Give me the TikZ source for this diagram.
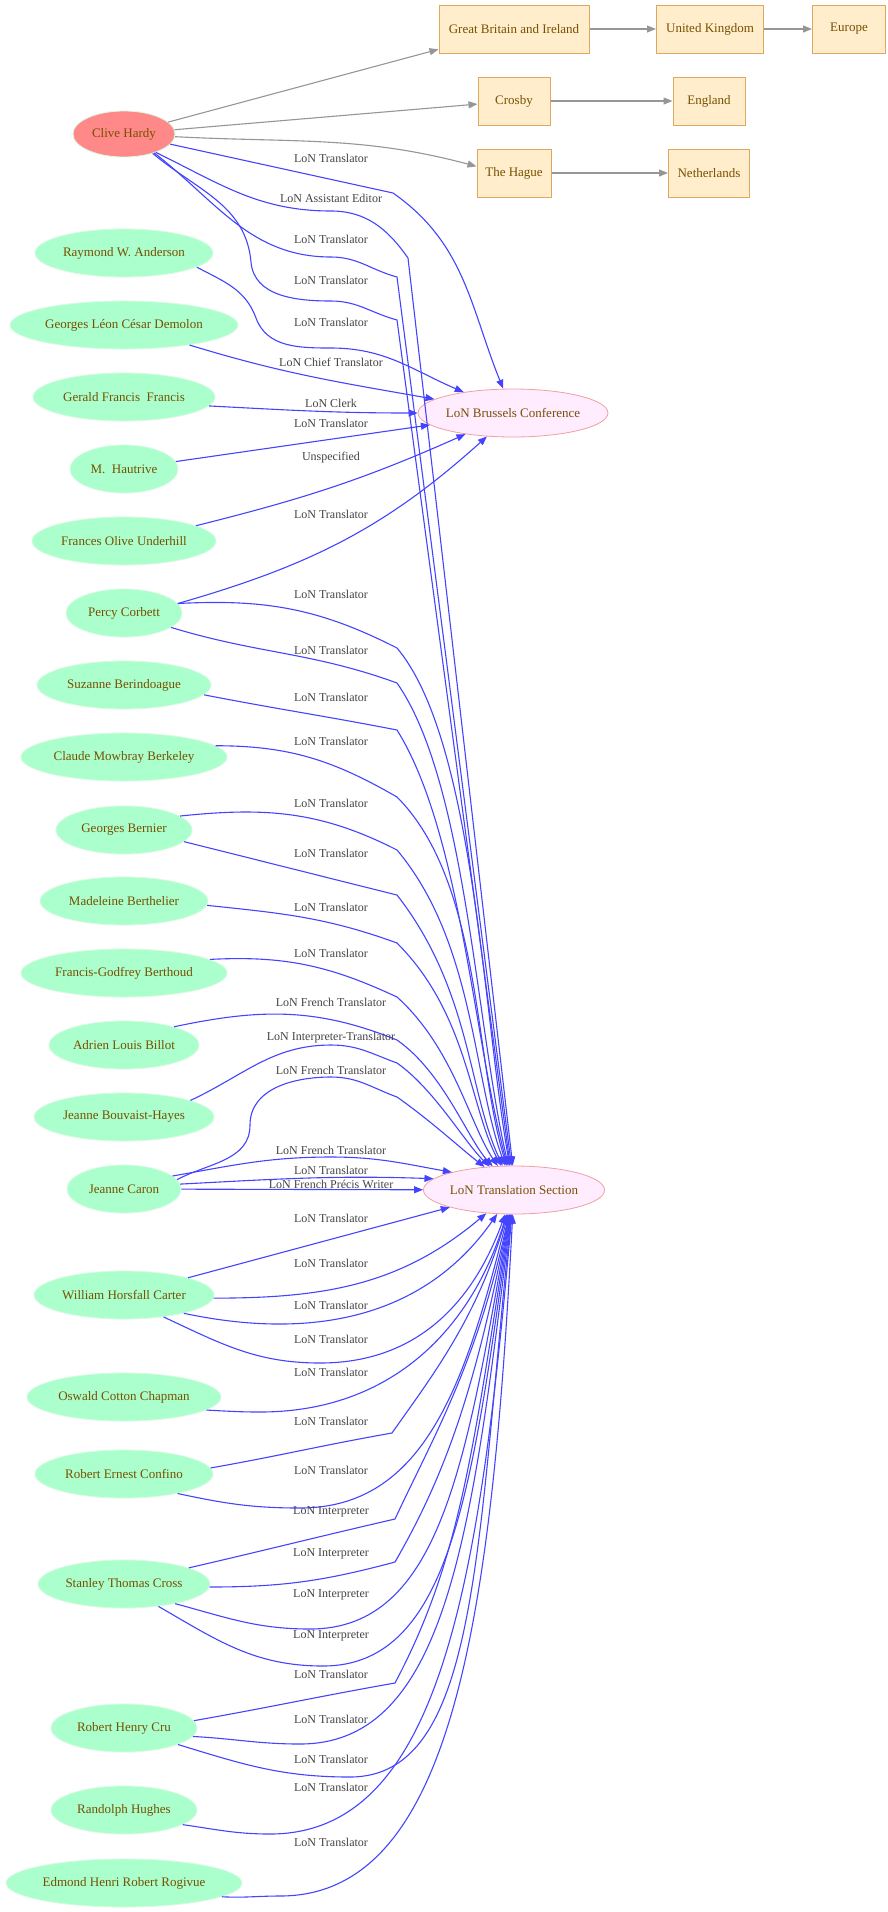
\documentclass[tikz,border=0pt]{standalone}
\usepackage{fontspec}
\setmainfont{Liberation Serif}
\usetikzlibrary{arrows.meta,shapes.geometric}

\definecolor{lonblue}{RGB}{68,68,255}
\definecolor{placegray}{RGB}{150,150,150}
\definecolor{mint}{RGB}{170,255,204}
\definecolor{mintline}{RGB}{215,250,225}
\definecolor{salmon}{RGB}{255,136,136}
\definecolor{placefill}{RGB}{255,237,204}
\definecolor{placeline}{RGB}{222,168,96}
\definecolor{orgfill}{RGB}{255,236,255}
\definecolor{orgline}{RGB}{240,160,160}
\definecolor{ink}{RGB}{120,80,0}
\definecolor{labink}{RGB}{68,68,68}

\tikzset{
  person/.style={ellipse,fill=mint,draw=mintline,line width=.8pt,minimum height=48pt,
    inner sep=0pt,text=ink,font=\fontsize{13}{15}\selectfont},
  org/.style={person,fill=orgfill,draw=orgline},
  place/.style={rectangle,fill=placefill,draw=placeline,line width=1pt,minimum height=48pt,
    inner xsep=4pt,text=ink,font=\fontsize{13}{15}\selectfont},
  lon/.style={draw=lonblue,line width=1.1pt,-{Triangle[length=9pt,width=7pt]}},
  geo/.style={draw=placegray,line width=1.1pt,-{Triangle[length=9pt,width=7pt]}},
  role/.style={text=labink,inner sep=0pt,font=\fontsize{12}{14}\selectfont}
}

\begin{document}
\begin{tikzpicture}[x=1pt,y=-1pt]
  \useasboundingbox[fill=white] (0,0) rectangle (887,1912);

  % places
  \node[place,minimum width=150pt] (gbi) at (514,29) {Great Britain and Ireland};
  \node[place,minimum width=107pt] (uk) at (710,29) {United Kingdom};
  \node[place,minimum width=73pt] (europe) at (849,29) {Europe};
  \node[place,minimum width=72pt] (crosby) at (514,101) {Crosby};
  \node[place,minimum width=72pt] (england) at (709,101) {England};
  \node[place,minimum width=74pt] (hague) at (514,173) {The Hague};
  \node[place,minimum width=81pt] (nl) at (709,173) {Netherlands};

  % organisations
  \node[org,minimum width=184pt] (bru) at (513,413) {LoN Brussels Conference};
  \node[org,minimum width=180pt] (trs) at (514,1190) {LoN Translation Section};

  % people
  \node[person,fill=salmon,minimum width=102pt,minimum height=46pt] (clive) at (124,134) {Clive Hardy};
  \foreach \n/\y/\w/\t in {anderson/253/178/Raymond W. Anderson,
      demolon/325/228/Georges Léon César Demolon, francis/397/182/Gerald Francis~ Francis,
      hautrive/469/108/M.~ Hautrive, underhill/541/184/Frances Olive Underhill,
      corbett/613/116/Percy Corbett, berindoague/685/174/Suzanne Berindoague,
      berkeley/757/206/Claude Mowbray Berkeley, bernier/830/136/Georges Bernier,
      berthelier/901/168/Madeleine Berthelier, berthoud/973/206/Francis-Godfrey Berthoud,
      billot/1045/150/Adrien Louis Billot, bouvaist/1117/180/Jeanne Bouvaist-Hayes,
      caron/1189/114/Jeanne Caron, carter/1295/180/William Horsfall Carter,
      chapman/1397/194/Oswald Cotton Chapman, confino/1474/178/Robert Ernest Confino,
      cross/1584/172/Stanley Thomas Cross, cru/1728/146/Robert Henry Cru,
      hughes/1810/146/Randolph Hughes, rogivue/1883/236/Edmond Henri Robert Rogivue}
    \node[person,minimum width=\w pt] (\n) at (124,\y) {\t};

  % places of Clive Hardy
  \draw[geo] (clive) -- (gbi);
  \draw[geo] (clive) -- (crosby);
  \draw[geo] (clive) to[out=-3,in=165] (hague.170);
  \foreach \from/\to in {gbi/uk,uk/europe,crosby/england,hague/nl}
    \draw[geo] (\from) -- (\to);

  % Brussels conference
  \draw[lon] (clive) -- (393,193) to[out=-35,in=112] (bru);
  \draw[lon] (anderson.-11) to[out=-28,in=110] (256,318) to[out=-70,in=180] (331,348) to[out=0,in=157] (bru);
  \draw[lon] (demolon.-17) to[out=-17,in=170] (bru);
  \draw[lon] (francis.-6) to[out=-3,in=180] (bru);
  \draw[lon] (hautrive) -- (bru);
  \draw[lon] (underhill.12) to[out=14,in=-156] (bru);
  \draw[lon] (corbett.10) to[out=16,in=-138] (bru);

  % translation section, from above
  \draw[lon] (clive.-30) to[out=-26,in=180] (331,211) to[out=0,in=125] (408,258) -- (trs.93);
  \draw[lon] (clive.-32) to[out=-38,in=180] (331,257) to[out=0,in=165] (397,277) -- (trs.96);
  \draw[lon] (clive.-34) to[out=-40,in=95] (251,262) to[out=-85,in=180] (331,301) to[out=0,in=165] (397,320) -- (trs.99);
  \foreach \src/\anc/\dep/\ky/\arr/\turn/\hit in {corbett/10/3/648/153/-50/100,
      corbett/-17/-17/683/160/-55/103, berindoague/-7/-11/730/169/-58/105,
      berkeley/7/0/797/150/-45/107, bernier/14/6/850/153/-50/110,
      bernier/-11/-14/895/166/-52/115, berthelier/-3/-6/943/160/-45/118,
      berthoud/9/3/997/155/-42/124, billot/20/12/1040/158/-35/132}{
    \pgfmathsetmacro\dA{min(0.45*(1166-\ky),120)}
    \pgfmathsetmacro\dB{min(0.3*(1166-\ky),250)}
    \draw[lon] (\src.\anc) to[out=\dep,in=\arr] (397,\ky)
      to[out=\turn,in=\hit,out distance=\dA pt,in distance=\dB pt] (trs);
  }
  \draw[lon] (bouvaist.14) to[out=25,in=180] (331,1045) to[out=0,in=160] (397,1063)
    to[out=-35,in=136,out distance=45pt,in distance=35pt] (trs);
  \draw[lon] (caron.10) to[out=28,in=-90] (250,1125) to[out=90,in=180] (331,1077) to[out=0,in=160] (397,1097)
    to[out=-35,in=142,out distance=40pt,in distance=30pt] (trs);
  \draw[lon] (caron.15) to[out=10,in=180] (331,1157) to[out=0,in=170] (trs.164);
  \draw[lon] (caron.5) to[out=3,in=178] (trs.172);
  \draw[lon] (caron) -- (trs);

  % translation section, from below
  \draw[lon] (carter) -- (trs);
  \draw[lon] (carter.-2) to[out=0,in=-140] (trs);
  \draw[lon] (carter.-17) to[out=-12,in=-125] (trs);
  \foreach \src/\anc/\dep/\mx/\my/\hit in {carter/-29/-25/320/1363/-110,
      chapman/-9/-3/260/1412/-107, confino/-20/-12/300/1508/-104,
      cross/-21/-15/310/1629/-100, cross/-33/-30/323/1666/-98,
      cru/-7/-3/300/1744/-97, cru/-17/-17/350/1777/-96,
      hughes/-14/-8/270/1834/-95, rogivue/-8/-3/280/1896/-93}{
    \pgfmathsetmacro\dA{0.45*(510-\mx)+0.1*(\my-1214)}
    \pgfmathsetmacro\dB{0.6*(\my-1214)}
    \draw[lon] (\src.\anc) to[out=\dep,in=180] (\mx,\my)
      to[out=0,in=\hit,out distance=\dA pt,in distance=\dB pt] (trs);
  }
  \foreach \src/\anc/\dep/\kx/\ky/\arr/\turn/\hit in {confino/4/10/392/1433/190/55/-106,
      cross/14/13/395/1519/193/65/-102, cross/-2/0/395/1562/195/60/-101,
      cru/6/10/395/1683/190/62/-99}{
    \pgfmathsetmacro\dA{0.3*(\ky-1214)}
    \pgfmathsetmacro\dB{0.5*(\ky-1214)}
    \draw[lon] (\src.\anc) to[out=\dep,in=\arr] (\kx,\ky)
      to[out=\turn,in=\hit,out distance=\dA pt,in distance=\dB pt] (trs);
  }

  % roles
  \foreach \y/\t [count=\i] in {158/LoN Translator, 198/LoN Assistant Editor,
      239/LoN Translator, 280/LoN Translator, 322/LoN Translator,
      362/LoN Chief Translator, 403/LoN Clerk, 423/LoN Translator, 458/Unspecified,
      514/LoN Translator, 594/LoN Translator, 650/LoN Translator, 697/LoN Translator,
      741/LoN Translator, 803/LoN Translator, 853/LoN Translator, 907/LoN Translator,
      953/LoN Translator, 1002/LoN French Translator, 1038/LoN Interpreter-Translator,
      1070/LoN French Translator, 1150/LoN French Translator, 1170/LoN Translator,
      1184/LoN French Précis Writer, 1218/LoN Translator, 1263/LoN Translator,
      1305/LoN Translator, 1339/LoN Translator, 1372/LoN Translator,
      1421/LoN Translator, 1470/LoN Translator, 1512/LoN Interpreter,
      1554/LoN Interpreter, 1595/LoN Interpreter, 1636/LoN Interpreter,
      1674/LoN Translator, 1719/LoN Translator, 1759/LoN Translator,
      1787/LoN Translator, 1842/LoN Translator}
    \node[role] (r\i) at (331,\y) {\t};
\end{tikzpicture}
\end{document}
